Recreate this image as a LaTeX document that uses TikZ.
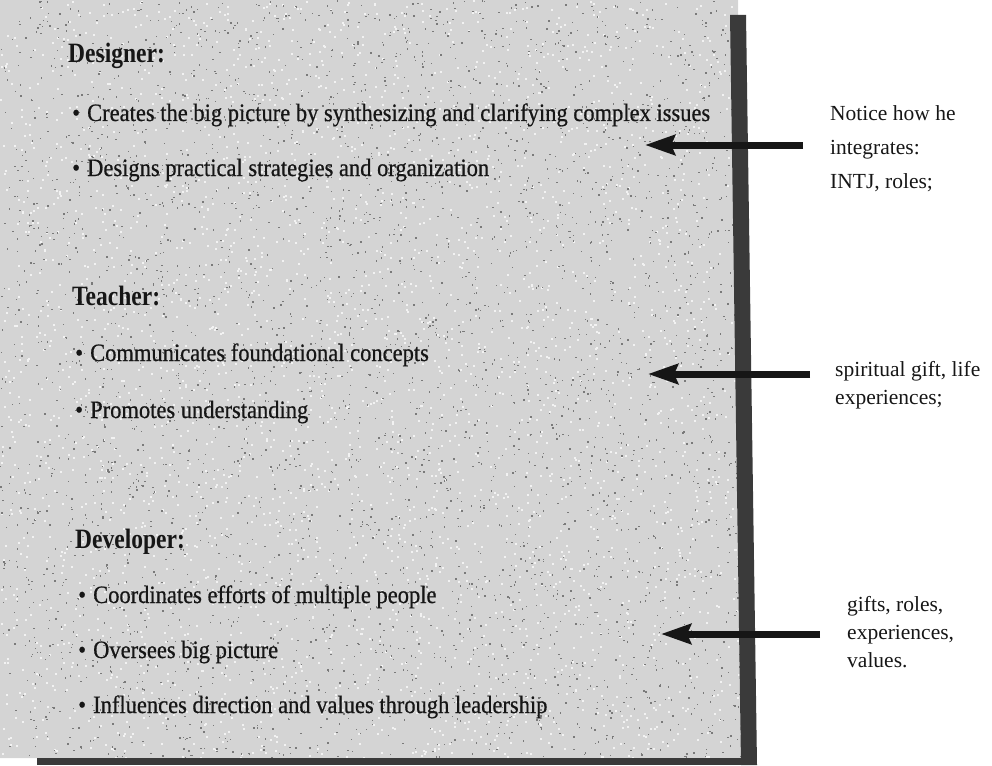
\documentclass[tikz,border=0pt]{standalone}
\usepackage{fontspec}
\setmainfont{Liberation Serif}
\newfontfamily\condfont{Liberation Serif}[FakeStretch=0.9, FakeBold=0.6]
\newfontfamily\condbold{Liberation Serif Bold}[FakeStretch=0.84]
\usetikzlibrary{arrows.meta}
\definecolor{ink}{HTML}{161616}
\definecolor{paper}{HTML}{D4D4D4}
\definecolor{speck}{HTML}{7A7A7A}
\definecolor{speckb}{HTML}{F2F2F2}
\definecolor{barc}{HTML}{3A3A3A}
\tikzset{
  head/.style={anchor=base west, inner sep=0pt, text=ink, font=\condbold\fontsize{28}{32}\selectfont},
  item/.style={anchor=base west, inner sep=0pt, text=ink, font=\condfont\fontsize{25}{30}\selectfont},
  note/.style={anchor=base west, inner sep=0pt, text=ink, align=left, font=\fontsize{21.5}{28}\selectfont},
  bigarrow/.style={line width=7pt, draw=ink, -{Stealth[length=30pt, width=20pt, inset=4pt]}}
}
\newcommand{\bul}{\makebox[15pt][l]{\textbullet}}
\begin{document}
\begin{tikzpicture}[x=1pt,y=-1pt]
\useasboundingbox (0,0) rectangle (992,765);
% panel
\fill[paper] (0,0) -- (738,0) -- (748,758) -- (0,758) -- cycle;
\begin{scope}
\clip (0,0) -- (738,0) -- (748,758) -- (0,758) -- cycle;
\pgfmathsetseed{7}
\foreach \i in {1,...,3000}{
  \pgfmathsetmacro\rx{rnd*745}
  \pgfmathsetmacro\ry{rnd*758}
  \fill[speckb] (\rx,\ry) rectangle +(2,2);
}
\foreach \i in {1,...,4000}{
  \pgfmathsetmacro\rx{rnd*745}
  \pgfmathsetmacro\ry{rnd*758}
  \fill[speck] (\rx,\ry) rectangle +(1.4,1.4);
}
\end{scope}
% shadow bars
\fill[barc] (730,15) -- (746,15) -- (757,765) -- (741,765) -- cycle;
\fill[barc] (37,758) rectangle (757,765);
% Designer
\node[head] (h1) at (68,63) {Designer:};
\node[item] (d1) at (72,121) {\bul Creates the big picture by synthesizing and clarifying complex issues};
\node[item] (d2) at (72,176) {\bul Designs practical strategies and organization};
% Teacher
\node[head] (h2) at (72,305) {Teacher:};
\node[item] (t1) at (75,361) {\bul Communicates foundational concepts};
\node[item] (t2) at (75,418) {\bul Promotes understanding};
% Developer
\node[head] (h3) at (75,548) {Developer:};
\node[item] (v1) at (78,603) {\bul Coordinates efforts of multiple people};
\node[item] (v2) at (78,658) {\bul Oversees big picture};
\node[item] (v3) at (78,713) {\bul Influences direction and values through leadership};
% notes (base = baseline of last line)
\node[note] (n1) at (830,188) {Notice how he\\[6pt]integrates:\\[6pt]INTJ, roles;};
\node[note] (n2) at (835,404) {spiritual gift, life\\experiences;};
\node[note] (n3) at (847,667) {gifts, roles,\\experiences,\\values.};
% arrows
\coordinate (a1s) at (803,145); \coordinate (a1e) at (645,145);
\coordinate (a2s) at (810,374); \coordinate (a2e) at (648,374);
\coordinate (a3s) at (820,634); \coordinate (a3e) at (661,634);
\draw[bigarrow] (a1s) -- (a1e);
\draw[bigarrow] (a2s) -- (a2e);
\draw[bigarrow] (a3s) -- (a3e);
\end{tikzpicture}
\end{document}
